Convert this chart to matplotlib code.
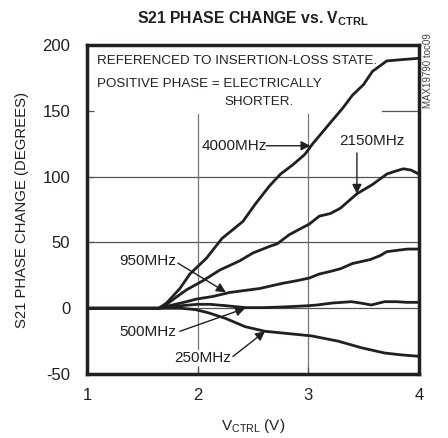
import matplotlib
matplotlib.use("Agg")
import matplotlib.pyplot as plt

plt.rcParams['font.family'] = ['Liberation Sans', 'DejaVu Sans']
plt.rcParams['mathtext.fontset'] = 'custom'
plt.rcParams['mathtext.rm'] = 'Liberation Sans'
plt.rcParams['mathtext.bf'] = 'Liberation Sans:bold'
plt.rcParams['axes.unicode_minus'] = False

# curves (VCTRL in V, phase in degrees)
v_4000 = [1.0, 1.4, 1.65, 1.72, 1.84, 1.93, 2.08, 2.22, 2.41, 2.52, 2.65, 2.75, 2.86,
          2.97, 3.04, 3.12, 3.22, 3.32, 3.40, 3.50, 3.58, 3.71, 3.85, 4.0]
ph_4000 = [0, 0, 0, 4, 15, 26, 38, 53, 66, 79, 93, 102, 109,
           117, 125, 133, 143, 153, 162, 170, 180, 188, 189, 190]

v_2150 = [1.0, 1.4, 1.65, 1.72, 1.80, 1.90, 2.05, 2.20, 2.38, 2.50, 2.65, 2.72, 2.83,
          2.92, 3.01, 3.10, 3.20, 3.29, 3.44, 3.58, 3.71, 3.78, 3.86, 3.93, 4.0]
ph_2150 = [0, 0, 0, 3, 8, 14, 21, 29, 36, 42, 47, 49, 56,
           60, 64, 70, 72, 76, 87, 94, 102, 104, 106, 105, 102]

v_950 = [1.0, 1.4, 1.65, 1.72, 1.80, 1.90, 1.99, 2.14, 2.29, 2.47, 2.56, 2.77, 2.90,
         3.01, 3.10, 3.20, 3.29, 3.40, 3.56, 3.65, 3.71, 3.80, 3.90, 4.0]
ph_950 = [0, 0, 0, 1.5, 3, 5, 7, 9, 12, 14, 15, 19, 21,
          23, 26, 28, 30, 34, 37, 40, 43, 44, 45, 45]

v_500 = [1.0, 1.65, 1.75, 1.86, 2.0, 2.11, 2.25, 2.43, 2.60, 2.77, 2.90, 3.01, 3.08,
         3.22, 3.39, 3.47, 3.57, 3.69, 3.80, 3.89, 4.0]
ph_500 = [0, 0, 1, 2, 3, 3, 2, 0.5, 0.5, 1, 1.5, 2, 2.5,
          4, 5, 4, 2.5, 5, 5, 4.5, 4.5]

v_250 = [1.0, 1.65, 1.85, 1.98, 2.1, 2.25, 2.43, 2.61, 2.79, 3.03, 3.27, 3.48, 3.69, 3.85, 4.0]
ph_250 = [0, 0, 0, -1, -3.5, -7.6, -14, -17.5, -19, -21, -25, -30, -34, -35.5, -36.5]

x_ticks = [1, 2, 3, 4]
y_ticks = [-50, 0, 50, 100, 150, 200]

ink = '#231f20'
fs = 11
fs_note = 9.6

fig = plt.figure(figsize=(4.48, 4.38), dpi=100)
ax = fig.add_axes([0.194, 0.146, 0.741, 0.751])

# grid, partly hidden behind the note block
for y in [0, 50, 100]:
    ax.axhline(y, color='#555555', lw=0.9, zorder=1)
ax.axhline(150, xmin=0.89, color='#555555', lw=0.9, zorder=1)
for x in [2, 3]:
    ax.axvline(x, ymax=0.79, color='#777777', lw=0.9, zorder=1)

for vv, pp in [(v_4000, ph_4000), (v_2150, ph_2150), (v_950, ph_950),
               (v_500, ph_500), (v_250, ph_250)]:
    ax.plot(vv, pp, color=ink, lw=2.0, zorder=3, solid_joinstyle='round')

ax.set_xlim(1, 4)
ax.set_ylim(-50, 200)
ax.set_xticks(x_ticks)
ax.set_yticks(y_ticks)
ax.tick_params(direction='in', length=5, width=0.9, color='#555555',
               labelsize=12, labelcolor=ink)
ax.tick_params(axis='y', pad=12)
ax.tick_params(axis='x', pad=10)
for s in ax.spines.values():
    s.set_linewidth(2.5)
    s.set_color(ink)
    s.set_zorder(5)

# notes
ax.text(1.09, 188, 'REFERENCED TO INSERTION-LOSS STATE.', fontsize=fs_note, color=ink,
        va='center', ha='left')
ax.text(1.09, 170.5, 'POSITIVE PHASE = ELECTRICALLY', fontsize=fs_note, color=ink,
        va='center', ha='left')
ax.text(2.247, 157, 'SHORTER.', fontsize=fs_note, color=ink, va='center', ha='left')

arrow = dict(arrowstyle='-|>', color=ink, lw=1.0, mutation_scale=14,
             shrinkA=0, shrinkB=0)
lbl_box = dict(facecolor='white', edgecolor='none', pad=0.5)

ax.text(2.328, 123.5, '4000MHz', fontsize=fs, color=ink, ha='center', va='center',
        bbox=lbl_box, zorder=2)
ax.annotate('', xy=(3.02, 123.5), xytext=(2.62, 123.5), arrowprops=arrow, zorder=4)

ax.text(3.575, 127, '2150MHz', fontsize=fs, color=ink, ha='center', va='center',
        bbox=lbl_box, zorder=2)
ax.annotate('', xy=(3.44, 87), xytext=(3.44, 118), arrowprops=arrow, zorder=4)

ax.text(1.551, 36, '950MHz', fontsize=fs, color=ink, ha='center', va='center',
        bbox=lbl_box, zorder=2)
ax.annotate('', xy=(2.256, 12.2), xytext=(1.822, 34.3), arrowprops=arrow, zorder=4)

ax.text(1.551, -18.3, '500MHz', fontsize=fs, color=ink, ha='center', va='center',
        bbox=lbl_box, zorder=2)
ax.annotate('', xy=(2.43, 0), xytext=(1.84, -17.5), arrowprops=arrow, zorder=4)

ax.text(2.048, -38, '250MHz', fontsize=fs, color=ink, ha='center', va='center',
        bbox=lbl_box, zorder=2)
ax.annotate('', xy=(2.61, -17.5), xytext=(2.32, -36.6), arrowprops=arrow, zorder=4)

fig.text(0.565, 0.9475, r'S21 PHASE CHANGE vs. V$_\mathbf{CTRL}$', fontsize=11.3,
         fontweight='bold', color=ink, ha='center', va='baseline')
fig.text(0.565, 0.018, r'V$_\mathrm{CTRL}$ (V)', fontsize=fs, color=ink,
         ha='center', va='baseline')
fig.text(0.05, 0.52, 'S21 PHASE CHANGE (DEGREES)', fontsize=10.7, color=ink,
         rotation=90, ha='center', va='center')
fig.text(0.956, 0.838, 'MAX19790 toc09', fontsize=7, color='#444444',
         rotation=90, ha='center', va='center')

fig.savefig('out.png', dpi=100)
